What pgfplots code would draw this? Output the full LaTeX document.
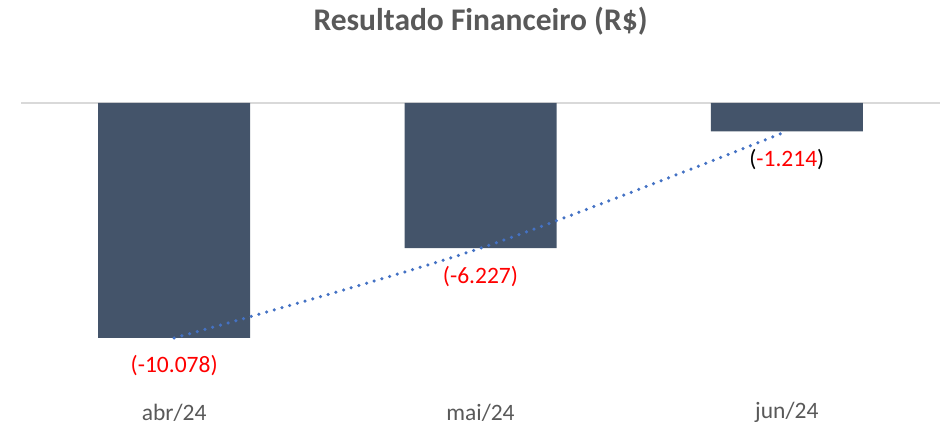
\documentclass[border=0pt]{standalone}
\usepackage{pgfplots}
\pgfplotsset{compat=1.18}
\usepackage{fontspec}
\setmainfont{Carlito}
\definecolor{barc}{HTML}{44546A}
\definecolor{trend}{HTML}{4472C4}
\definecolor{txt}{HTML}{595959}
\definecolor{gridc}{HTML}{D9D9D9}
\begin{document}
\begin{tikzpicture}
\path[use as bounding box] (-21pt,-35.2pt) rectangle (920pt,389.8pt);
\begin{axis}[
  scale only axis,
  width=919pt, height=286.8pt,
  xmin=-0.5, xmax=2.5,
  ymin=-12300, ymax=0,
  scaled y ticks=false,
  axis line style={draw=none},
  tick style={draw=none},
  xtick={0,1,2},
  xticklabels={abr/24,mai/24,jun/24},
  xticklabel style={font=\fontsize{23.5}{28}\selectfont, text=txt, anchor=center, inner sep=0pt, yshift=-23pt},
  ytick={0}, yticklabels={},
  ymajorgrids,
  grid style={gridc, line width=2pt},
  title={\textbf{Resultado Financeiro (R\$)}},
  title style={font=\fontsize{31.5}{36}\selectfont, text=txt, at={(0.5,1)}, anchor=center, yshift=76pt},
  clip=false,
]
\addplot[ybar, bar width=152pt, fill=barc, draw=none,
  point meta=explicit symbolic,
  nodes near coords,
  every node near coord/.style={font=\fontsize{23.5}{28}\selectfont, anchor=center, yshift=-28pt}]
coordinates {
 (0,-10078) [\textcolor{red}{(-10.078)}]
 (1,-6227) [\textcolor{red}{(-6.227)}]
 (2,-1214) [(\textcolor{red}{-1.214})]
};
\addplot[smooth, trend, line width=3.5pt, line cap=round, dash pattern=on 0pt off 8pt]
coordinates {(0,-10078) (1,-6227) (2,-1214)};
\end{axis}
\end{tikzpicture}
\end{document}
